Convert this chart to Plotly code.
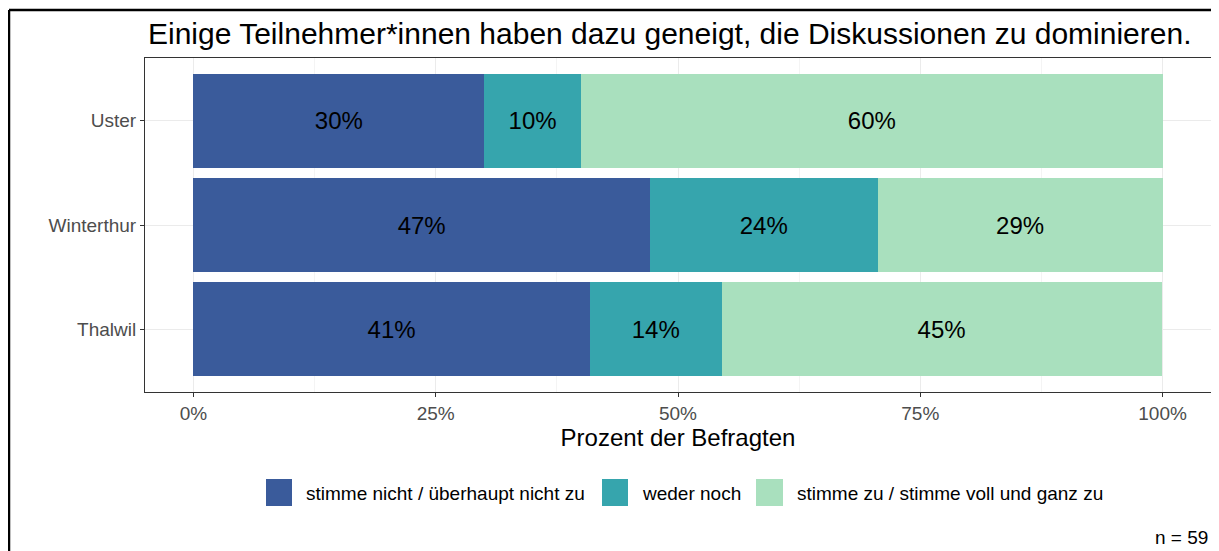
import plotly.graph_objs as go

# Data
orte = ["Uster", "Winterthur", "Thalwil"]
antworten = [
    "stimme nicht / überhaupt nicht zu",
    "weder noch",
    "stimme zu / stimme voll und ganz zu",
]
anteil_nicht = [30.0, 47.1, 40.9]
anteil_weder = [10.0, 23.5, 13.6]
anteil_zu = [60.0, 29.4, 45.4]
farben = ["#3A5B9B", "#36A5AD", "#A9E0BE"]

titel = "Einige Teilnehmer*innen haben dazu geneigt, die Diskussionen zu dominieren."
x_titel = "Prozent der Befragten"
fussnote = "n = 59"
x_ticks = [0, 0.25, 0.5, 0.75, 1.0]
x_ticklabels = ["0%", "25%", "50%", "75%", "100%"]

# the page body adds an 8px margin, so the figure is 8px smaller
W, H = 1211, 543
FONT = "Liberation Sans, Arial, sans-serif"


def px(x):
    return x / W


def py(y):
    return 1 - y / H


def main():
    fig = go.Figure()
    for name, werte, farbe in zip(
        antworten, [anteil_nicht, anteil_weder, anteil_zu], farben
    ):
        fig.add_trace(
            go.Bar(
                name=name,
                y=orte,
                x=[v / 100 for v in werte],
                orientation="h",
                marker_color=farbe,
                marker_line_width=0,
                width=0.9,
                text=[f"{v:.0f}%" for v in werte],
                textposition="inside",
                insidetextanchor="middle",
                textfont=dict(size=24, color="black", family=FONT),
                hoverinfo="skip",
                showlegend=False,
            )
        )

    # panel in pixels
    x0, x1 = 137, 1203
    y0, y1 = 50, 384

    # hand-drawn legend (large square keys like ggplot)
    legend_keys = [(258, 284), (594, 620), (748, 775)]
    legend_text_x = [298, 634, 789]
    shapes = []
    annotations = []
    for (k0, k1), tx, name, farbe in zip(legend_keys, legend_text_x, antworten, farben):
        shapes.append(
            dict(
                type="rect",
                xref="paper",
                yref="paper",
                x0=px(k0),
                x1=px(k1),
                y0=py(498),
                y1=py(471),
                fillcolor=farbe,
                line_width=0,
            )
        )
        annotations.append(
            dict(
                text=name,
                xref="paper",
                yref="paper",
                x=px(tx),
                y=py(485),
                xanchor="left",
                yanchor="middle",
                showarrow=False,
                xshift=-2,
                font=dict(size=19, color="black", family=FONT),
            )
        )

    # outer frame (top and left edge)
    shapes += [
        dict(
            type="line",
            xref="paper",
            yref="paper",
            x0=px(1),
            x1=1.0,
            y0=py(2),
            y1=py(2),
            line=dict(color="black", width=2.5),
        ),
        dict(
            type="line",
            xref="paper",
            yref="paper",
            x0=px(1),
            x1=px(1),
            y0=0,
            y1=py(2),
            line=dict(color="black", width=2.5),
        ),
    ]

    annotations += [
        dict(
            text=titel,
            xref="paper",
            yref="paper",
            x=px(x0 + 1),
            y=py(26),
            xanchor="left",
            yanchor="middle",
            showarrow=False,
            font=dict(size=30, color="black", family=FONT),
        ),
        dict(
            text=fussnote,
            xref="paper",
            yref="paper",
            x=px(1202),
            y=py(529),
            xanchor="right",
            yanchor="middle",
            showarrow=False,
            font=dict(size=19, color="black", family=FONT),
        ),
    ]

    fig.update_layout(
        width=W,
        height=H,
        barmode="stack",
        bargap=0.1,
        plot_bgcolor="white",
        paper_bgcolor="white",
        margin=dict(l=0, r=0, t=0, b=0),
        font=dict(family=FONT, color="#4D4D4D", size=19),
        showlegend=False,
        uniformtext=dict(mode="show", minsize=24),
        xaxis=dict(
            domain=[px(x0), px(x1)],
            range=[-0.05, 1.05],
            tickvals=x_ticks,
            ticktext=x_ticklabels,
            ticks="outside",
            ticklen=4,
            tickcolor="#333333",
            tickfont=dict(size=19, color="#4D4D4D"),
            showgrid=True,
            gridcolor="#EBEBEB",
            minor=dict(dtick=0.125, showgrid=True, gridcolor="#F4F4F4"),
            showline=True,
            linecolor="#333333",
            linewidth=1,
            mirror=True,
            zeroline=False,
            title=dict(
                text=x_titel,
                font=dict(size=24, color="black", family=FONT),
                standoff=6,
            ),
        ),
        yaxis=dict(
            domain=[py(y1), py(y0)],
            categoryorder="array",
            categoryarray=orte[::-1],
            range=[-0.6, 2.6],
            ticks="outside",
            ticklen=4,
            tickcolor="#333333",
            tickfont=dict(size=19, color="#4D4D4D"),
            showgrid=True,
            gridcolor="#EBEBEB",
            showline=True,
            linecolor="#333333",
            linewidth=1,
            mirror=True,
            zeroline=False,
        ),
        annotations=annotations,
        shapes=shapes,
    )

    fig.write_html("out.html")


if __name__ == "__main__":
    main()
